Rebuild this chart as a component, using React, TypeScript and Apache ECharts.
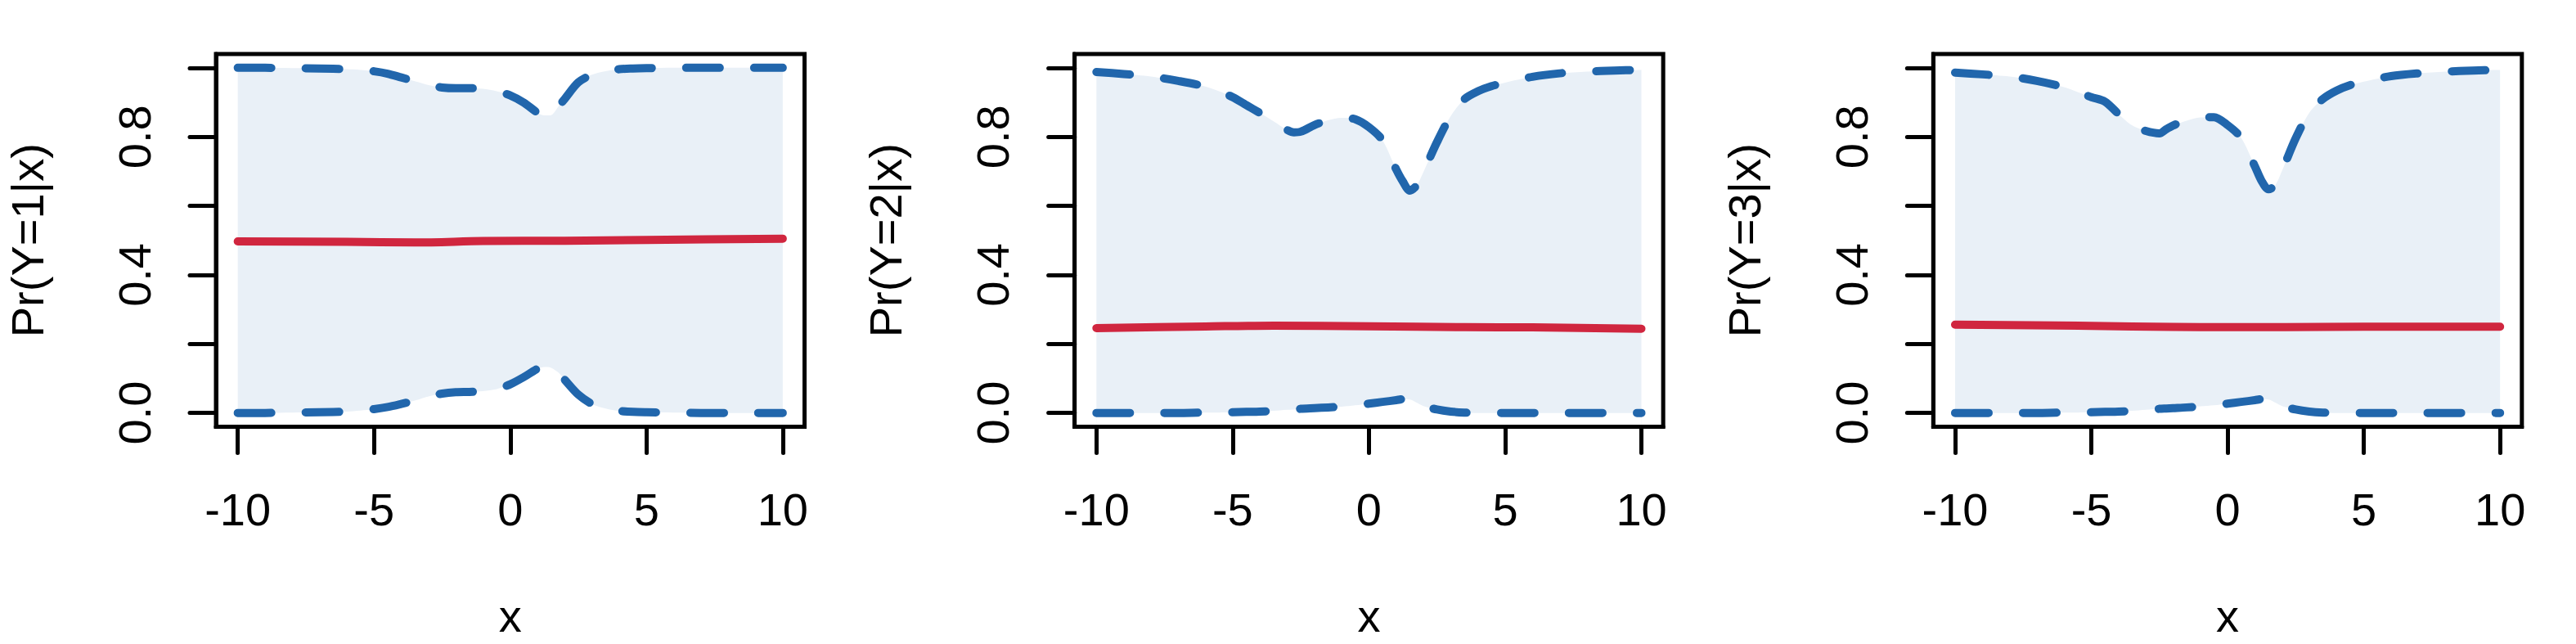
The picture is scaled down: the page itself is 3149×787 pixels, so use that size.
import { useEffect, useRef } from "react";
import * as echarts from "echarts";

// ---- tick values / labels ----
const xTicks = [-10, -5, 0, 5, 10];
const yTicks = [0, 0.2, 0.4, 0.6, 0.8, 1.0];
const yLabelValues = [0, 0.4, 0.8];
const yTitles = ["Pr(Y=1|x)", "Pr(Y=2|x)", "Pr(Y=3|x)"];
const xTitle = "x";

// ---- panel 1 ----
const x1 = [-10, -9, -8, -7, -6, -5.5, -5, -4.5, -4, -3.5, -3, -2.5, -2, -1.5, -1, -0.5, 0, 0.5, 1, 1.25, 1.5, 1.75, 2, 2.5, 3, 3.5, 4, 4.5, 5, 6, 7, 8, 9, 10];
const upper1 = [1.0, 1.0, 0.999, 0.998, 0.996, 0.994, 0.99, 0.983, 0.972, 0.961, 0.95, 0.943, 0.941, 0.941, 0.939, 0.932, 0.92, 0.899, 0.87, 0.862, 0.863, 0.886, 0.91, 0.958, 0.98, 0.99, 0.996, 0.998, 0.999, 1.0, 1.0, 1.0, 1.0, 1.0];
const lower1 = [0, 0, 0.001, 0.002, 0.004, 0.007, 0.011, 0.017, 0.026, 0.036, 0.048, 0.056, 0.06, 0.061, 0.063, 0.069, 0.083, 0.104, 0.128, 0.133, 0.131, 0.118, 0.096, 0.053, 0.026, 0.013, 0.006, 0.003, 0.002, 0.001, 0, 0, 0, 0];
const meanX1 = [-10, -6, -3.5, -1, 2, 5, 10];
const mean1 = [0.497, 0.496, 0.494, 0.498, 0.499, 0.501, 0.505];

// ---- panel 2 ----
const x2 = [-10, -9, -8, -7, -6, -5.5, -5, -4.5, -4, -3.5, -3, -2.75, -2.5, -2, -1.5, -1, -0.5, 0, 0.5, 1, 1.25, 1.5, 1.75, 2, 2.5, 3, 3.5, 4, 4.5, 5, 6, 7, 8, 9, 10];
const upper2 = [0.988, 0.982, 0.975, 0.962, 0.946, 0.932, 0.915, 0.892, 0.869, 0.845, 0.82, 0.813, 0.815, 0.834, 0.848, 0.855, 0.851, 0.828, 0.79, 0.706, 0.67, 0.644, 0.659, 0.698, 0.785, 0.86, 0.909, 0.932, 0.947, 0.957, 0.974, 0.984, 0.989, 0.992, 0.994];
const lower2 = [0, 0, 0, 0, 0.001, 0.001, 0.002, 0.003, 0.004, 0.006, 0.009, 0.01, 0.012, 0.014, 0.016, 0.018, 0.022, 0.027, 0.032, 0.037, 0.04, 0.039, 0.03, 0.02, 0.01, 0.004, 0.001, 0, 0, 0, 0, 0, 0, 0, 0];
const meanX2 = [-10, -6, -3.5, 0, 3.5, 6, 10];
const mean2 = [0.246, 0.2505, 0.253, 0.251, 0.2485, 0.248, 0.244];

// ---- panel 3 ----
const x3 = [-10, -9, -8, -7, -6, -5.5, -5, -4.5, -4, -3.5, -3, -2.5, -2.25, -2, -1.5, -1, -0.5, 0, 0.5, 1, 1.25, 1.5, 1.75, 2, 2.5, 3, 3.5, 4, 4.5, 5, 6, 7, 8, 9, 10];
const upper3 = [0.986, 0.981, 0.975, 0.962, 0.944, 0.93, 0.915, 0.902, 0.866, 0.833, 0.817, 0.81, 0.822, 0.833, 0.847, 0.856, 0.857, 0.834, 0.797, 0.715, 0.672, 0.648, 0.66, 0.702, 0.796, 0.87, 0.91, 0.934, 0.95, 0.96, 0.976, 0.984, 0.989, 0.992, 0.994];
const lower3 = [0, 0, 0, 0, 0.001, 0.001, 0.002, 0.003, 0.004, 0.006, 0.009, 0.012, 0.013, 0.014, 0.016, 0.019, 0.022, 0.027, 0.032, 0.037, 0.04, 0.039, 0.03, 0.02, 0.01, 0.004, 0.001, 0, 0, 0, 0, 0, 0, 0, 0];
const meanX3 = [-10, -5, -2, 0, 2, 5, 10];
const mean3 = [0.2556, 0.2525, 0.249, 0.2485, 0.2485, 0.25, 0.25];

const panels = [
  { x: x1, upper: upper1, lower: lower1, meanX: meanX1, mean: mean1, title: yTitles[0] },
  { x: x2, upper: upper2, lower: lower2, meanX: meanX2, mean: mean2, title: yTitles[1] },
  { x: x3, upper: upper3, lower: lower3, meanX: meanX3, mean: mean3, title: yTitles[2] },
];

const BLUE = "#2166AC";
const RED = "#D0263F";
const FILL = "#E9F0F7";
const FONT = "'Liberation Sans', Arial, Helvetica, sans-serif";
const FS = 56;

const zip = (xs: number[], ys: number[]) => xs.map((x, i) => [x, ys[i]]);

export default function App() {
  const ref = useRef<HTMLDivElement>(null);
  useEffect(() => {
    document.body.style.margin = "0";
    if (!ref.current) return;
    const chart = echarts.init(ref.current, null, { renderer: "svg" });
    const panelW = 3149 / 3;
    const grids: any[] = [];
    const xAxes: any[] = [];
    const yAxes: any[] = [];
    const series: any[] = [];
    panels.forEach((p, k) => {
      grids.push({
        left: 264 + k * panelW,
        top: 66,
        width: 719.5,
        height: 455.5,
        show: true,
        borderColor: "#000",
        borderWidth: 5,
        backgroundColor: "transparent",
      });
      xAxes.push({
        type: "value",
        gridIndex: k,
        position: "bottom",
        min: -10.8,
        max: 10.8,
        z: 6,
        name: xTitle,
        nameLocation: "middle",
        nameGap: 203,
        nameTextStyle: { fontSize: FS, color: "#000", fontFamily: FONT },
        axisLine: { show: true, onZero: false, lineStyle: { color: "#000", width: 5 } },
        axisTick: {
          show: true,
          length: 32,
          customValues: xTicks,
          lineStyle: { color: "#000", width: 5, cap: "round" },
        },
        axisLabel: {
          show: true,
          customValues: xTicks,
          margin: 73,
          fontSize: FS,
          color: "#000",
          fontFamily: FONT,
          formatter: (v: number) => String(v),
        },
        splitLine: { show: false },
      });
      yAxes.push({
        type: "value",
        gridIndex: k,
        position: "left",
        min: -0.04,
        max: 1.04,
        z: 6,
        name: p.title,
        nameLocation: "middle",
        nameGap: 203,
        nameRotate: 90,
        nameTextStyle: { fontSize: FS, color: "#000", fontFamily: FONT },
        axisLine: { show: true, onZero: false, lineStyle: { color: "#000", width: 5 } },
        axisTick: {
          show: true,
          length: 32,
          customValues: yTicks,
          lineStyle: { color: "#000", width: 5, cap: "round" },
        },
        axisLabel: {
          show: true,
          customValues: yLabelValues,
          rotate: 90,
          margin: 72,
          fontSize: FS,
          color: "#000",
          fontFamily: FONT,
          formatter: (v: number) => v.toFixed(1),
        },
        splitLine: { show: false },
      });
      const common = {
        type: "line",
        xAxisIndex: k,
        yAxisIndex: k,
        smooth: 0.3,
        symbol: "none",
        showSymbol: false,
        silent: true,
      };
      series.push({
        ...common,
        z: 1,
        data: zip(p.x, p.upper),
        lineStyle: { width: 0, opacity: 0 },
        areaStyle: { color: FILL, opacity: 1, origin: "start" },
      });
      series.push({
        ...common,
        z: 2,
        data: zip(p.x, p.lower),
        lineStyle: { width: 0, opacity: 0 },
        areaStyle: { color: "#ffffff", opacity: 1, origin: "start" },
      });
      series.push({
        ...common,
        z: 3,
        data: zip(p.x, p.upper),
        lineStyle: { color: BLUE, width: 10, type: [41, 42], cap: "round", join: "round" },
      });
      series.push({
        ...common,
        z: 3,
        data: zip(p.x, p.lower),
        lineStyle: { color: BLUE, width: 10, type: [41, 42], cap: "round", join: "round" },
      });
      series.push({
        ...common,
        z: 4,
        data: zip(p.meanX, p.mean),
        lineStyle: { color: RED, width: 10, cap: "round", join: "round" },
      });
    });
    chart.setOption({
      animation: false,
      backgroundColor: "#ffffff",
      grid: grids,
      xAxis: xAxes,
      yAxis: yAxes,
      series,
    });
    return () => chart.dispose();
  }, []);
  return (
    <div
      ref={ref}
      style={{ position: "absolute", left: 0, top: 0, width: 3149, height: 787 }}
    />
  );
}
